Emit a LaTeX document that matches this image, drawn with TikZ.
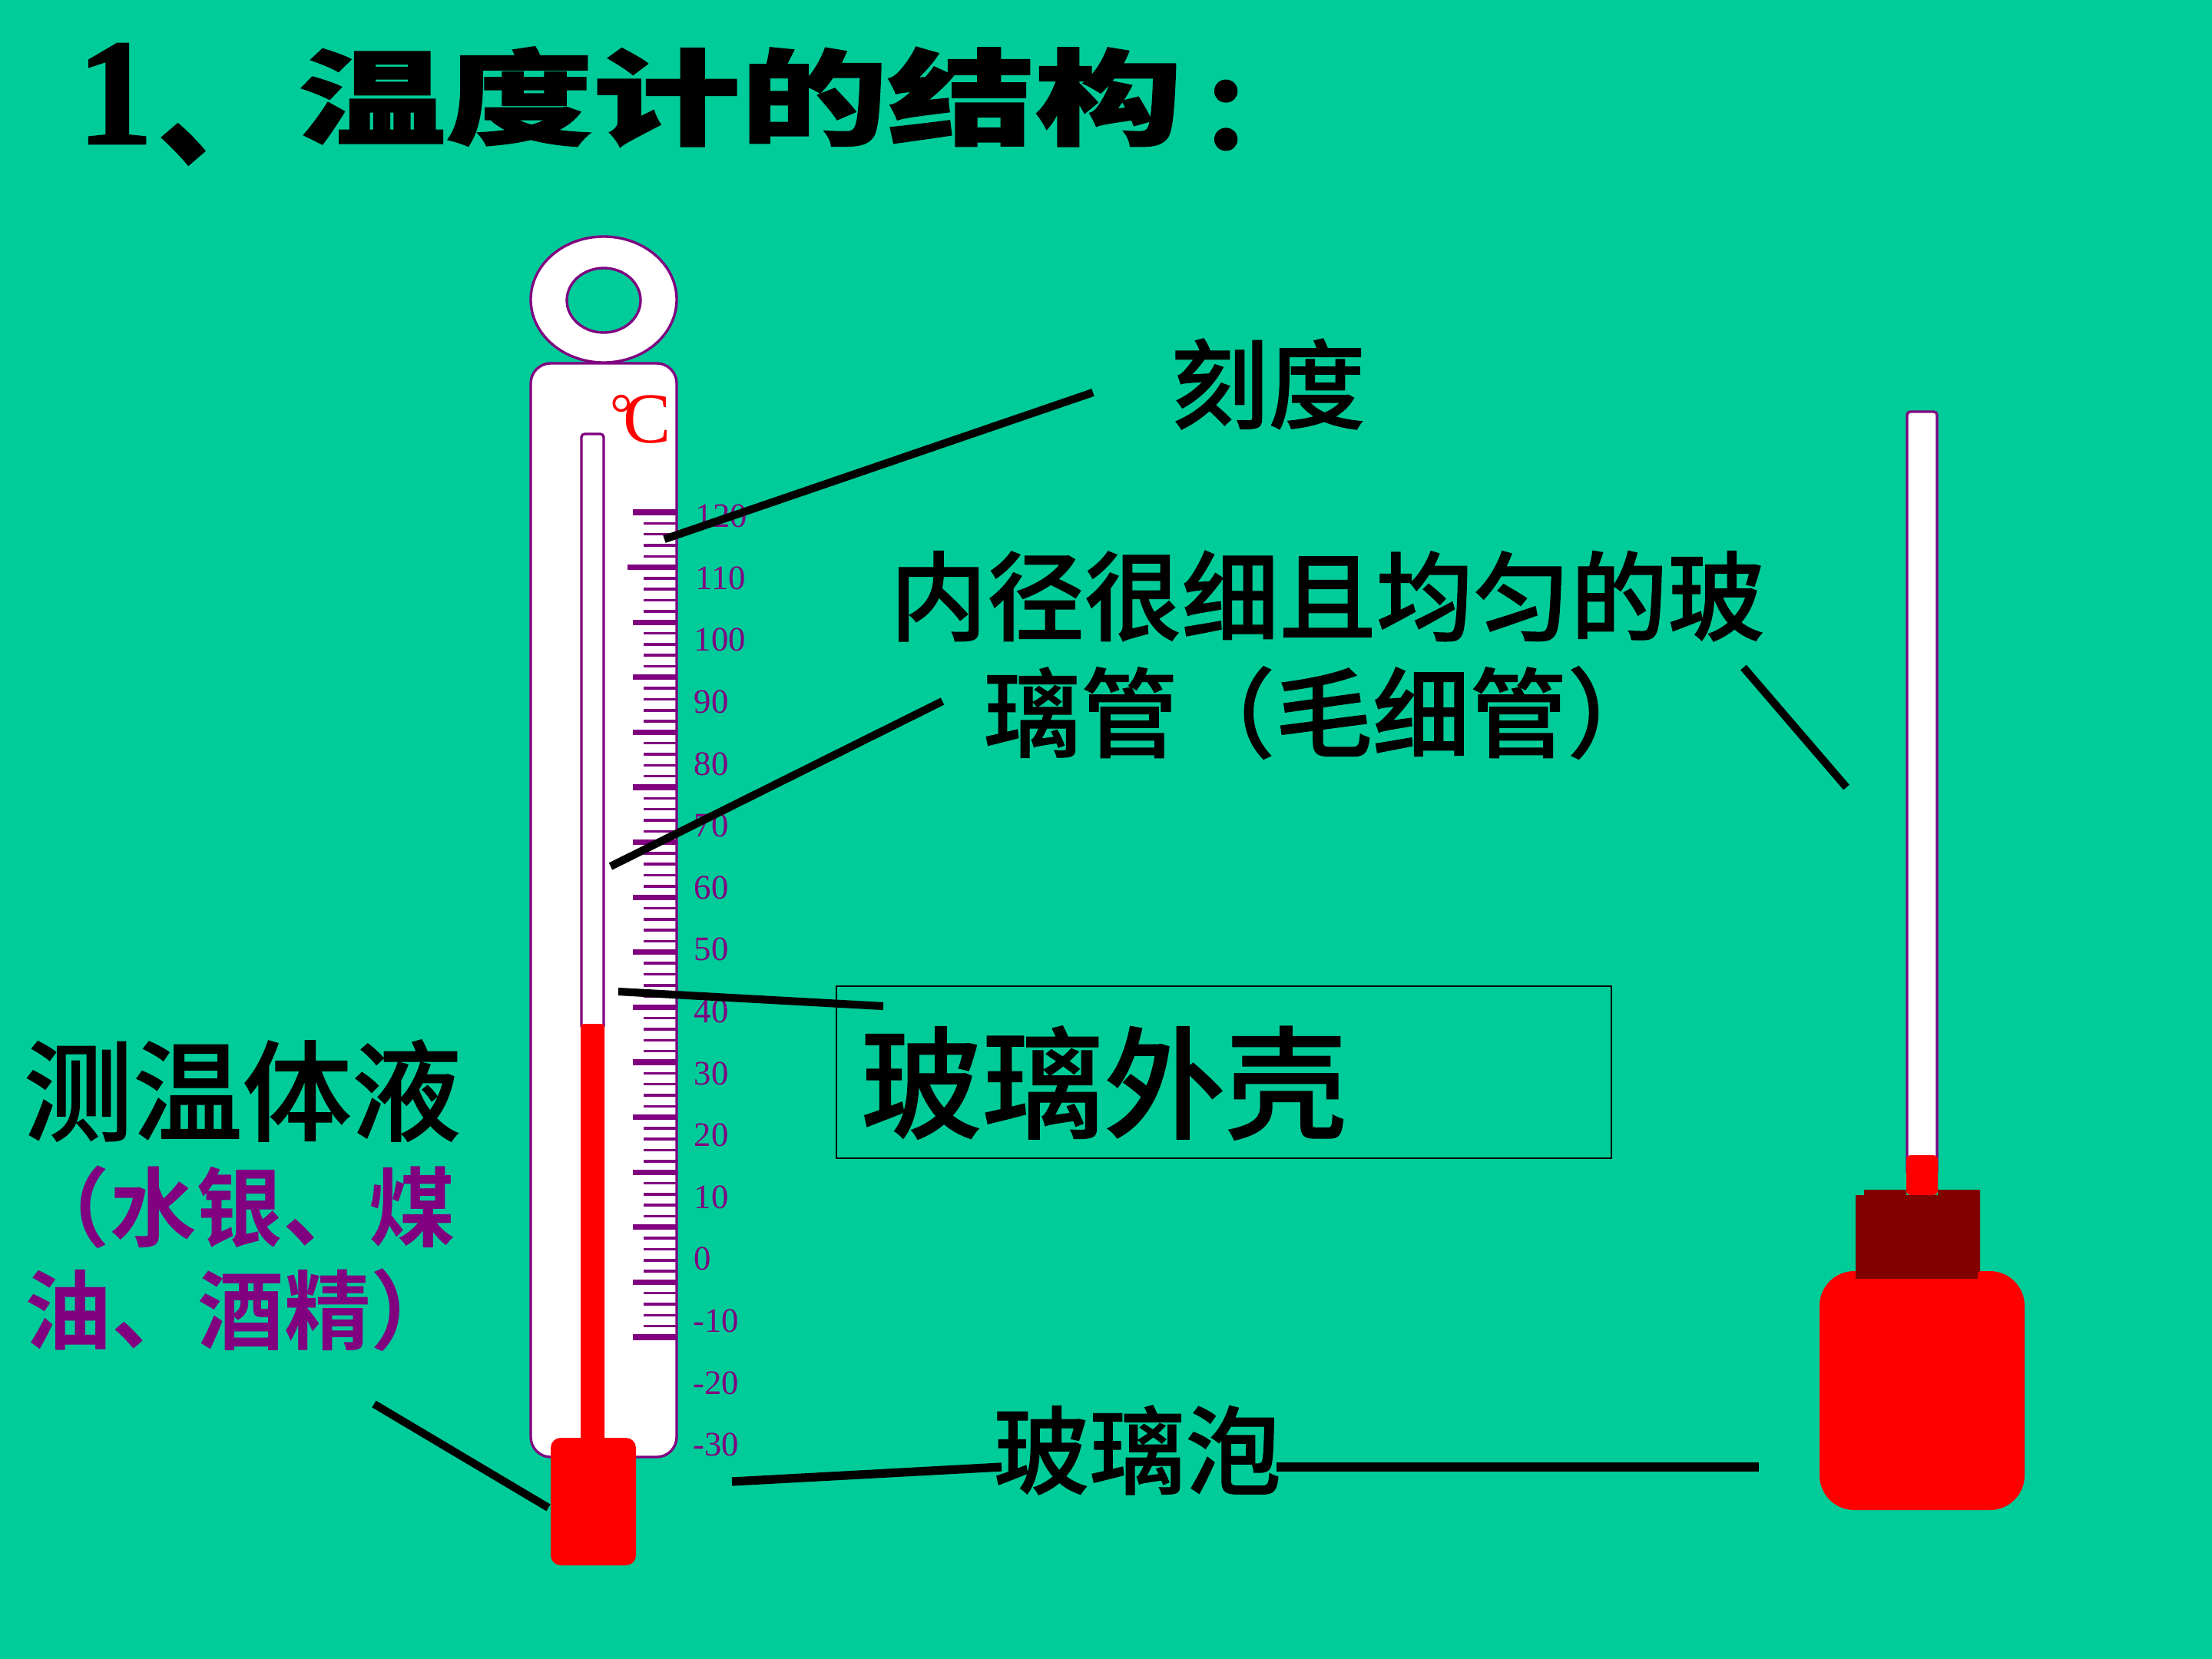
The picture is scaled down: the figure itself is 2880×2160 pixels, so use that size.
\documentclass[tikz,border=0pt]{standalone}
\usepackage{fontspec}
\setmainfont{Liberation Serif}
\newfontfamily\cjk[FakeBold=0.8]{Noto Sans CJK SC Medium}
\newfontfamily\cjkpurple{Noto Sans CJK SC Bold}
\newfontfamily\titlecjk[FakeStretch=1.42,FakeBold=1.5]{Noto Sans CJK SC Black}
\newfontfamily\titlemark[FakeBold=1.5]{Noto Sans CJK SC Black}
\newfontfamily\titlenum[FakeBold=1.5]{Liberation Serif Bold}
\definecolor{pagebg}{HTML}{00CC99}
\definecolor{scalepurple}{HTML}{800080}
\definecolor{capred}{HTML}{FF0000}
\definecolor{neckred}{HTML}{800000}
\tikzset{
  glass/.style={draw=scalepurple,line width=0.95pt,fill=white},
  leader/.style={draw=black,line width=2.9pt},
  leaderwide/.style={draw=black,line width=3.2pt},
  lab/.style={inner sep=0pt,anchor=west,text=black},
  scalenum/.style={inner sep=0pt,anchor=west,text=scalepurple,font=\fontsize{12.7}{14}\selectfont},
  tickmajor/.style={draw=scalepurple,line width=2pt},
  tickminor/.style={draw=scalepurple,line width=1pt},
}
\begin{document}
\begin{tikzpicture}[x=0.01cm,y=-0.01cm]
\useasboundingbox (0,0) rectangle (2880,2160);
\fill[pagebg] (0,0) rectangle (2880,2160);

% Heading
\node[lab,font=\titlenum\fontsize{56}{60}\selectfont] (title1) at (100,122) {1};
\node[lab,font=\titlemark\fontsize{46}{48}\selectfont] (title2) at (205,188) {、};
\node[lab,font=\titlecjk\fontsize{38.4}{40}\selectfont] (title3) at (388,126) {温度计的结构};
\node[lab,font=\titlemark\fontsize{38}{40}\selectfont] (title4) at (1562,150) {：};

% Left thermometer: ring and body
\draw[glass,even odd rule] (786,390) ellipse [x radius=95,y radius=82] (786,391) ellipse [x radius=48,y radius=42];
\draw[glass,rounded corners=7.4pt] (691,473) rectangle (881,1897);
\draw[glass,rounded corners=1.2pt] (757,565) rectangle (786,1340);
\fill[capred,rounded corners=1.2pt] (756,1333) rectangle (787,1880);
\fill[capred,rounded corners=3.7pt] (717,1872) rectangle (828,2038);

% Scale ticks
\foreach \i in {0,...,75}{
  \pgfmathsetmacro{\yy}{667+\i*14.32}
  \draw[tickminor] (838,\yy) -- (880,\yy);
}
\foreach \i in {0,...,15}{
  \pgfmathsetmacro{\yy}{667+\i*71.6}
  \pgfmathsetmacro{\xl}{\i==1?817:824}
  \draw[tickmajor] (\xl,\yy) -- (880,\yy);
}

% Scale numbers
\foreach \v/\i/\xx in {120/0/905,110/1/905,100/2/903,90/3/903,80/4/903,70/5/903,60/6/903,50/7/903,40/8/903,30/9/903,20/10/903,10/11/903,0/12/903,-10/13/902,-20/14/902,-30/15/902}{
  \pgfmathsetmacro{\yy}{672+\i*80.6}
  \node[scalenum] at (\xx,\yy) {\v};
}

\node[inner sep=0pt,anchor=west,text=capred,font=\fontsize{26.5}{28}\selectfont] (unit) at (794,546) {\raisebox{3.6pt}{\fontsize{21}{22}\selectfont°}\kern-3.6pt C};

% Right thermometer
\draw[glass,rounded corners=1.2pt] (2483,536) rectangle (2522,1530);
\fill[capred,rounded corners=1.7pt] (2482,1556) -- (2482,1504) -- (2523,1504) -- (2523,1556) -- cycle;
\fill[capred,rounded corners=12.8pt] (2369,1655) rectangle (2636,1966);
\fill[neckred] (2416,1556) -- (2427,1556) -- (2427,1549) -- (2482,1549) -- (2482,1556) -- (2523,1556) -- (2523,1549) -- (2578,1549) -- (2578,1656) -- (2575,1656) -- (2575,1665) -- (2416,1665) -- cycle;

% Labels
\node[lab,font=\cjk\fontsize{36}{40}\selectfont] (ke) at (1524,500) {刻度};
\node[lab,font=\cjk\fontsize{36}{40}\selectfont] (cap1) at (1158,776) {内径很细且均匀的玻};
\node[lab,font=\cjk\fontsize{36}{40}\selectfont] (cap2) at (1280,928) {璃管（毛细管）};
\node[lab,font=\cjk\fontsize{45}{48}\selectfont] (shell) at (1120,1410) {玻璃外壳};
\node[lab,font=\cjk\fontsize{40.5}{44}\selectfont] (liq) at (30,1420) {测温体液};
\node[lab,text=scalepurple,font=\cjkpurple\fontsize{32}{36}\selectfont] (liqa) at (30,1572) {（水银、煤};
\node[lab,text=scalepurple,font=\cjkpurple\fontsize{32}{36}\selectfont] (liqb) at (32,1706) {油、酒精）};
\node[lab,font=\cjk\fontsize{35.5}{40}\selectfont] (bulb) at (1293,1888) {玻璃泡};

% Outlined box round the shell label
\draw[black,line width=0.7pt] (1089,1284) rectangle (2098,1508);

% Leader lines
\coordinate (keEnd) at (1423,511);
\coordinate (keTip) at (865,702);
\coordinate (capEnd) at (1227,913);
\coordinate (capTip) at (795,1128);
\coordinate (shellEnd) at (1150,1310);
\coordinate (shellTip) at (805,1291);
\coordinate (rcapEnd) at (2270,869);
\coordinate (rcapTip) at (2404,1025);
\coordinate (liqEnd) at (487,1828);
\coordinate (liqTip) at (714,1963);
\coordinate (blEnd) at (1304,1910);
\coordinate (blTip) at (953,1929);
\coordinate (brEnd) at (1662,1910);
\coordinate (brTip) at (2290,1910);
\draw[leader] (keEnd) -- (keTip);
\draw[leader] (capEnd) -- (capTip);
\draw[leader] (shellEnd) -- (shellTip);
\draw[leader] (rcapEnd) -- (rcapTip);
\draw[leader] (liqEnd) -- (liqTip);
\draw[leaderwide] (blEnd) -- (blTip);
\draw[leaderwide] (brEnd) -- (brTip);
\end{tikzpicture}
\end{document}
